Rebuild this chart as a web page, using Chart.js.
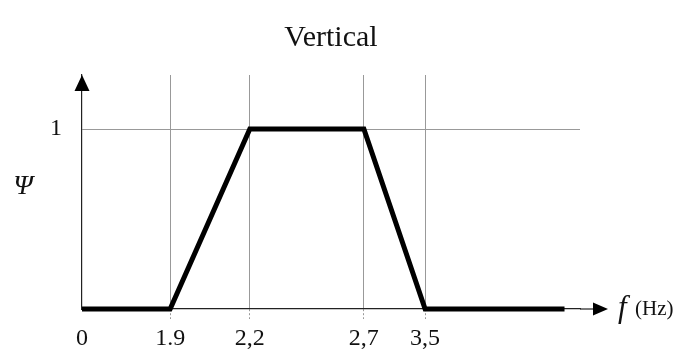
<!DOCTYPE html>
<html>
<head>
<meta charset="utf-8">
<script src="https://cdn.jsdelivr.net/npm/chart.js@4.4.1/dist/chart.umd.min.js"></script>
<style>
  html, body { margin: 0; padding: 0; background: #fff; }
  #wrap { width: 676px; height: 349px; }
</style>
</head>
<body>
<div id="wrap"><canvas id="vertical"></canvas></div>
<script>
// pontos de quebra da função (frequência em Hz, valor de Psi)
const frequencias = [0, 1.9, 2.2, 2.7, 3.5, 4.4];
const psi = [0, 0, 1, 1, 0, 0];
const xTicks = [0, 1.9, 2.2, 2.7, 3.5];
const xTickLabels = ["0", "1.9", "2,2", "2,7", "3,5"];
const yTicks = [1];
const yTickLabels = ["1"];

// eixo esquemático: os trechos entre os pontos não estão em escala real
class SchematicScale extends Chart.LinearScale {
  getPixelForValue(value) {
    if (value === null || isNaN(value)) return NaN;
    const a = this.options.anchors;
    let i = 0;
    while (i < a.length - 2 && value > a[i + 1][0]) i++;
    const [v0, f0] = a[i], [v1, f1] = a[i + 1];
    return this.getPixelForDecimal(f0 + (value - v0) / (v1 - v0) * (f1 - f0));
  }
  getValueForPixel(pixel) {
    const d = this.getDecimalForPixel(pixel);
    const a = this.options.anchors;
    let i = 0;
    while (i < a.length - 2 && d > a[i + 1][1]) i++;
    const [v0, f0] = a[i], [v1, f1] = a[i + 1];
    return v0 + (d - f0) / (f1 - f0) * (v1 - v0);
  }
}
SchematicScale.id = "schematic";
SchematicScale.defaults = Chart.LinearScale.defaults;
Chart.register(SchematicScale);

Chart.defaults.font.family = "'Liberation Serif', 'Times New Roman', serif";
Chart.defaults.color = "#111";

// setas dos eixos e rótulos f (Hz) e Psi
const setas = {
  id: "setas",
  afterDraw(chart) {
    const { ctx, chartArea: a } = chart;
    ctx.save();
    ctx.strokeStyle = "#222";
    ctx.lineWidth = 1.2;
    ctx.beginPath();
    ctx.moveTo(a.right, a.bottom);
    ctx.lineTo(a.right + 16, a.bottom);
    ctx.stroke();
    ctx.fillStyle = "#000";
    ctx.beginPath();
    ctx.moveTo(a.right + 28, a.bottom);
    ctx.lineTo(a.right + 13, a.bottom - 6.5);
    ctx.lineTo(a.right + 13, a.bottom + 6.5);
    ctx.closePath();
    ctx.fill();
    ctx.beginPath();
    ctx.moveTo(a.left, a.top);
    ctx.lineTo(a.left - 7.5, a.top + 16);
    ctx.lineTo(a.left + 7.5, a.top + 16);
    ctx.closePath();
    ctx.fill();

    ctx.fillStyle = "#111";
    ctx.textBaseline = "middle";
    ctx.textAlign = "left";
    ctx.font = "italic 31px 'Liberation Serif'";
    ctx.fillText("f", a.right + 38, a.bottom);
    ctx.font = "21px 'Liberation Serif'";
    ctx.fillText("(Hz)", a.right + 55, a.bottom);
    ctx.textAlign = "center";
    ctx.font = "italic 28px 'Liberation Serif'";
    ctx.fillText("Ψ", 23, (a.top + a.bottom) / 2 - 5);
    ctx.restore();
  }
};

new Chart(document.getElementById("vertical"), {
  type: "line",
  data: {
    datasets: [{
      data: frequencias.map((f, i) => ({ x: f, y: psi[i] })),
      borderColor: "#000",
      borderWidth: 5,
      pointRadius: 0,
      tension: 0,
      borderJoinStyle: "miter",
      clip: false
    }]
  },
  options: {
    responsive: true,
    maintainAspectRatio: false,
    animation: false,
    layout: { padding: { left: 40, right: 96, top: 0, bottom: 0 } },
    scales: {
      x: {
        type: "schematic",
        min: 0,
        max: 4.5,
        anchors: [[0, 0], [1.9, 0.177], [2.2, 0.337], [2.7, 0.566], [3.5, 0.689], [4.5, 1]],
        afterBuildTicks: (s) => { s.ticks = xTicks.map(v => ({ value: v })); },
        afterFit: (s) => { s.height = 40; },
        border: { color: "#222", width: 1.2 },
        grid: {
          color: (c) => (c.tick && c.tick.value === 0 ? "rgba(0,0,0,0)" : "#999"),
          tickColor: (c) => (c.tick && c.tick.value === 0 ? "rgba(0,0,0,0)" : "#999"),
          lineWidth: 1,
          borderDash: [2, 2],
          tickBorderDash: [2, 2],
          tickLength: 10
        },
        ticks: {
          autoSkip: false,
          maxRotation: 0,
          padding: 5,
          font: { size: 24 },
          callback: (v, i) => xTickLabels[i]
        }
      },
      y: {
        type: "linear",
        min: 0,
        max: 1.3,
        afterBuildTicks: (s) => { s.ticks = yTicks.map(v => ({ value: v })); },
        afterFit: (s) => { s.width = 42; },
        border: { color: "#222", width: 1.2 },
        grid: {
          color: "#999",
          lineWidth: 1,
          borderDash: [2, 2],
          drawTicks: false
        },
        ticks: {
          padding: 20,
          font: { size: 24 },
          callback: (v, i) => yTickLabels[i]
        }
      }
    },
    plugins: {
      legend: { display: false },
      tooltip: { enabled: false },
      title: {
        display: true,
        fullSize: false,
        text: "Vertical",
        color: "#111",
        font: { size: 30, weight: "normal" },
        padding: { top: 20, bottom: 19 }
      }
    }
  },
  plugins: [setas]
});
</script>
</body>
</html>
